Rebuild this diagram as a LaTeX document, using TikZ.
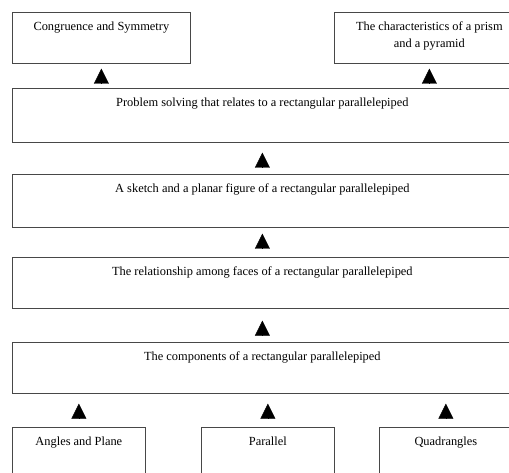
\documentclass[tikz,border=0pt]{standalone}
\usepackage{fontspec}
\setmainfont{Liberation Serif}
\usetikzlibrary{arrows.meta}

\begin{document}
\begin{tikzpicture}[x=1pt,y=-1pt]

\def\wide{500pt}
\def\narrow{133pt}

\tikzset{box/.style = {draw=black!72, line width=0.7pt, rectangle, anchor=north west, minimum height=51pt, inner sep=0pt}}
\tikzset{boxtext/.style = {anchor=north, yshift=-10pt, inner sep=0pt, align=center, font=\fontsize{12.4}{17}\selectfont}}
\tikzset{rise/.style = {-{Triangle[width=15pt,length=15pt]}, line width=0.4pt}}

\useasboundingbox (0,0) rectangle (509,473);

% top row
\node[box, minimum width=178pt, label={[boxtext]north:Congruence and Symmetry}] (cong) at (12,12) {};
\node[box, minimum width=190pt, label={[boxtext]north:The characteristics of a prism\\and a pyramid}] (prism) at (334,12) {};

% chain
\node[box, minimum width=\wide, minimum height=54pt, label={[boxtext]north:Problem solving that relates to a rectangular parallelepiped}] (solve) at (12,88) {};
\node[box, minimum width=\wide, minimum height=53pt, label={[boxtext]north:A sketch and a planar figure of a rectangular parallelepiped}] (sketch) at (12,174) {};
\node[box, minimum width=\wide, label={[boxtext]north:The relationship among faces of a rectangular parallelepiped}] (faces) at (12,257) {};
\node[box, minimum width=\wide, label={[boxtext]north:The components of a rectangular parallelepiped}] (parts) at (12,342) {};

% bottom row
\node[box, minimum width=\narrow, minimum height=60pt, label={[boxtext]north:Angles and Plane}] (angles) at (12,427) {};
\node[box, minimum width=\narrow, minimum height=60pt, label={[boxtext]north:Parallel}] (parallel) at (201,427) {};
\node[box, minimum width=\narrow, minimum height=60pt, label={[boxtext]north:Quadrangles}] (quad) at (379,427) {};

% arrows
\draw[rise, shorten >=5pt, shorten <=5pt] (cong.south |- solve.north) -- (cong.south);
\draw[rise, shorten >=5pt, shorten <=5pt] (prism.south |- solve.north) -- (prism.south);
\draw[rise, shorten >=10pt, shorten <=7pt] (sketch.north) -- (solve.south);
\draw[rise, shorten >=6pt, shorten <=9pt] (faces.north) -- (sketch.south);
\draw[rise, shorten >=12pt, shorten <=7pt] (parts.north) -- (faces.south);

\draw[rise, shorten >=10pt, shorten <=9pt] (angles.north) -- (angles.north |- parts.south);
\draw[rise, shorten >=10pt, shorten <=9pt] (parallel.north) -- (parallel.north |- parts.south);
\draw[rise, shorten >=10pt, shorten <=9pt] (quad.north) -- (quad.north |- parts.south);

\end{tikzpicture}
\end{document}
